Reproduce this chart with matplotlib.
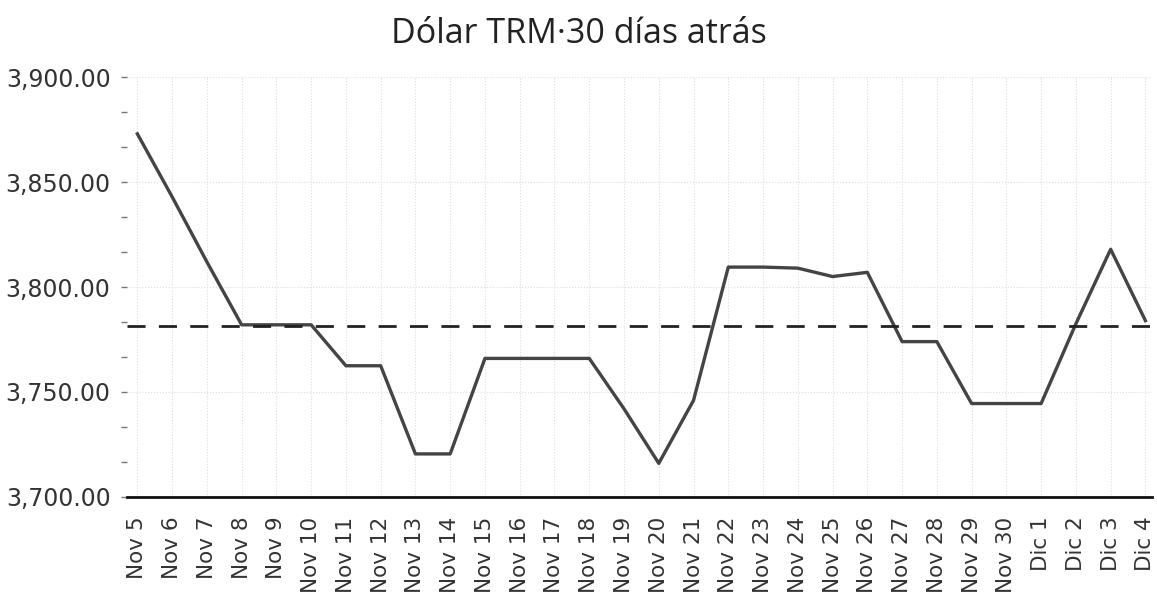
import matplotlib
matplotlib.use("Agg")
import matplotlib.pyplot as plt
from matplotlib.ticker import MultipleLocator, FuncFormatter

# daily TRM values (COP per USD)
dias = ["Nov 5", "Nov 6", "Nov 7", "Nov 8", "Nov 9", "Nov 10", "Nov 11", "Nov 12",
        "Nov 13", "Nov 14", "Nov 15", "Nov 16", "Nov 17", "Nov 18", "Nov 19", "Nov 20",
        "Nov 21", "Nov 22", "Nov 23", "Nov 24", "Nov 25", "Nov 26", "Nov 27", "Nov 28",
        "Nov 29", "Nov 30", "Dic 1", "Dic 2", "Dic 3", "Dic 4"]
trm = [3873.0, 3843.0, 3812.0, 3782.0, 3782.0, 3782.0, 3762.5, 3762.5,
       3720.5, 3720.5, 3766.0, 3766.0, 3766.0, 3766.0, 3742.0, 3716.0,
       3746.0, 3809.5, 3809.5, 3809.0, 3805.0, 3807.0, 3774.0, 3774.0,
       3744.5, 3744.5, 3744.5, 3782.5, 3818.0, 3784.0]
promedio = 3781.5  # dashed reference line

fig = plt.figure(figsize=(11.57, 5.98), dpi=100)
ax = fig.add_axes([0.110, 0.169, 0.886, 0.702])

x = list(range(len(dias)))
ax.plot(x, trm, color="#444444", linewidth=2.4, solid_joinstyle="round")
ax.axhline(promedio, color="#222222", linewidth=2.0, dashes=(6.5, 4.8))

ax.set_ylim(3700, 3900)
ax.set_xlim(-0.29, len(dias) - 1 + 0.2)
ax.yaxis.set_major_locator(MultipleLocator(50))
ax.yaxis.set_minor_locator(MultipleLocator(50 / 3))
ax.yaxis.set_major_formatter(FuncFormatter(lambda v, p: f"{v:,.2f}"))
ax.set_xticks(x)
ax.set_xticklabels(dias, rotation=90, fontsize=15.5, color="#333333")

ax.tick_params(axis="y", which="both", length=4, width=1, color="#777777",
               labelsize=17, labelcolor="#333333", pad=8)
ax.tick_params(axis="x", length=0, pad=14)

ax.grid(True, which="major", color="#dddddd", linewidth=0.8, linestyle=":")
for s in ["top", "right", "left"]:
    ax.spines[s].set_visible(False)
ax.spines["bottom"].set_color("#111111")
ax.spines["bottom"].set_linewidth(2.0)

fig.suptitle("Dólar TRM·30 días atrás", x=0.5, y=0.972, fontsize=24.5,
             family="Open Sans", color="#222222")

fig.savefig("out.png", dpi=100)
